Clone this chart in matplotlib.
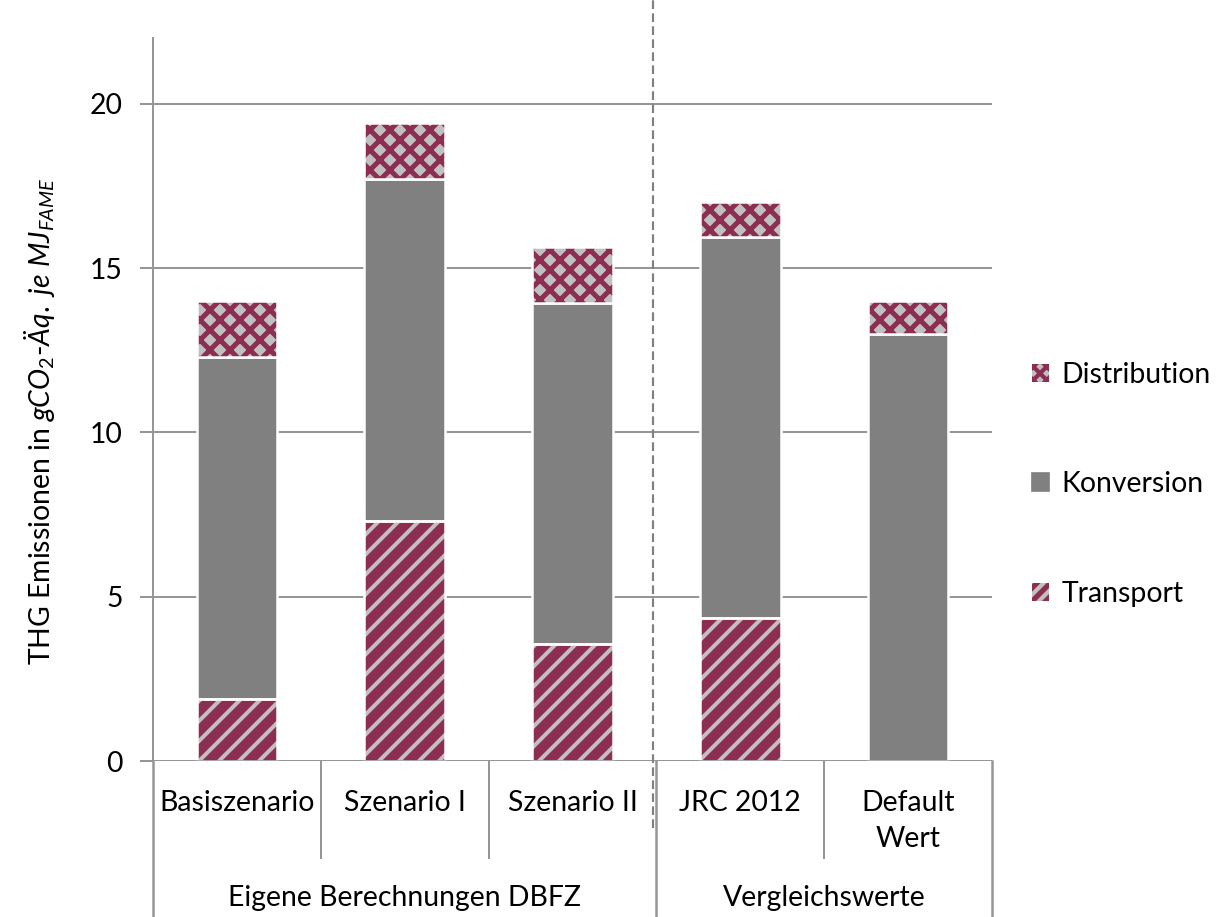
import matplotlib
matplotlib.use("Agg")
import matplotlib.pyplot as plt
from matplotlib.patches import Patch
import numpy as np

plt.rcParams['font.family'] = ['Lato', 'DejaVu Sans']
plt.rcParams['mathtext.fontset'] = 'custom'
plt.rcParams['mathtext.rm'] = 'Lato'
plt.rcParams['mathtext.it'] = 'Lato:italic'

# data
categories = ['Basiszenario', 'Szenario I', 'Szenario II', 'JRC 2012', 'Default\nWert']
groups = ['Eigene Berechnungen DBFZ', 'Vergleichswerte']
transport = [1.9, 7.3, 3.55, 4.35, 0.0]
konversion = [10.4, 10.4, 10.4, 11.6, 13.0]
distribution = [1.7, 1.7, 1.7, 1.05, 1.0]

MAROON = '#8b2e52'
LGRAY = '#c0c0c0'
DGRAY = '#808080'
AXGRAY = '#969696'
FS = 17


def set_hlw(patches, lw):
    for p in patches:
        if hasattr(p, 'set_hatch_linewidth'):
            p.set_hatch_linewidth(lw)


fig = plt.figure(figsize=(1218 / 120, 917 / 120), dpi=120)
ax = fig.add_axes([153 / 1218, 1 - 761 / 917, (992 - 153) / 1218, (761 - 38) / 917])

x = np.arange(len(categories))
w = 0.48
t = np.array(transport)
k = np.array(konversion)
d = np.array(distribution)

# transport: maroon with light gray stripes
plt.rcParams['hatch.linewidth'] = 2.4
ax.bar(x, t, w, color=MAROON, linewidth=0, zorder=3)
bt = ax.bar(x, t, w, color='none', edgecolor=LGRAY, linewidth=0, hatch='//', zorder=3.2)
set_hlw(bt, 2.4)
ax.bar(x, t, w, color='none', edgecolor='white', linewidth=1.5, zorder=3.6)

# konversion
ax.bar(x, k, w, bottom=t, color=DGRAY, edgecolor='white', linewidth=1.5, zorder=3)

# distribution: gray diamonds on maroon
plt.rcParams['hatch.linewidth'] = 3.0
ax.bar(x, d, w, bottom=t + k, color=LGRAY, linewidth=0, zorder=3)
bd = ax.bar(x, d, w, bottom=t + k, color='none', edgecolor=MAROON, linewidth=0,
            hatch='xx', zorder=3.2)
set_hlw(bd, 3.0)
ax.bar(x, d, w, bottom=t + k, color='none', edgecolor='white', linewidth=1.5, zorder=3.6)

ax.set_xlim(-0.5, len(categories) - 0.5)
ax.set_ylim(0, 22)
ax.set_yticks([0, 5, 10, 15, 20])
ax.tick_params(axis='y', direction='out', length=8, color=AXGRAY, width=1.2,
               labelsize=FS, pad=10)
ax.set_xticks([])
ax.grid(axis='y', color=AXGRAY, linewidth=1.2, zorder=0)
for s in ['top', 'right', 'bottom']:
    ax.spines[s].set_visible(False)
ax.spines['left'].set_color(AXGRAY)
ax.spines['left'].set_linewidth(1.2)
ax.axhline(0, color=AXGRAY, linewidth=1.5, zorder=4)

ax.set_ylabel(r'THG Emissionen in $gCO_2$-$Äq.\ je\ MJ_{FAME}$', fontsize=FS)
ax.yaxis.set_label_coords(-0.115, 0.47)

# category labels below axis
tr = ax.get_xaxis_transform()
for xi, lab in zip(x, categories):
    ax.text(xi, -0.04, lab, transform=tr, ha='center', va='top', fontsize=FS,
            linespacing=1.5)
# separators
yax = lambda py: (761 - py) / (761 - 38)
for xs in [0.5, 1.5, 3.5]:
    ax.plot([xs, xs], [0, yax(858)], transform=tr, color=AXGRAY, lw=1.2, clip_on=False)
for xs in [-0.5, 2.5, 4.5]:
    ax.plot([xs, xs], [0, yax(917)], transform=tr, color=AXGRAY, lw=1.5, clip_on=False)
ax.plot([-0.5, -0.5], [0, 1], transform=tr, color=AXGRAY, lw=1.2, clip_on=False)
# dashed divider
ax.plot([2.48, 2.48], [yax(828), yax(0)], transform=tr, color=DGRAY, lw=1.3,
        ls=(0, (4, 2)), clip_on=False, zorder=5)

ax.text(1.0, yax(898), groups[0], transform=tr, ha='center', va='center', fontsize=FS)
ax.text(3.5, yax(898), groups[1], transform=tr, ha='center', va='center', fontsize=FS)

plt.rcParams['hatch.linewidth'] = 2.5
handles = [
    Patch(facecolor=LGRAY, edgecolor=MAROON, hatch='xxx', linewidth=0, label='Distribution'),
    Patch(facecolor=DGRAY, edgecolor=DGRAY, label='Konversion'),
    Patch(facecolor=MAROON, edgecolor=LGRAY, hatch='///', linewidth=0, label='Transport'),
]
leg = ax.legend(handles=handles, loc='center left', bbox_to_anchor=(1.0, 0.383),
                frameon=False, fontsize=FS, handlelength=0.6, handleheight=0.6,
                handletextpad=0.45, labelspacing=2.95, borderaxespad=1.0)

fig.savefig('out.png', dpi=120)
